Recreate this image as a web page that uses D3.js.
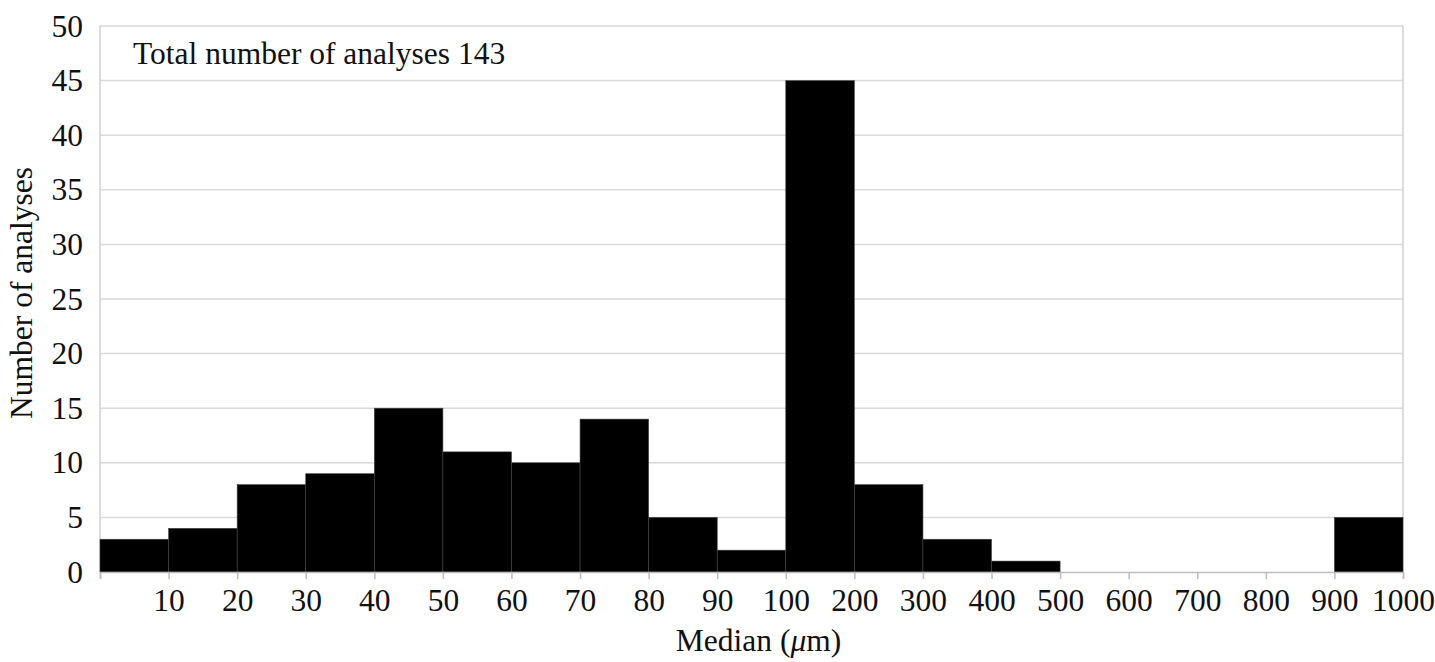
<!DOCTYPE html>
<html>
<head>
<meta charset="utf-8">
<script src="https://cdn.jsdelivr.net/npm/d3@7"></script>
<style>
  body { margin: 0; background: #fff; }
  text { font-family: "Liberation Serif", "Times New Roman", serif; fill: #111; }
</style>
</head>
<body>
<svg width="1435" height="662"></svg>
<script>
// bin edges (Median, µm) and counts per bin
const edges = [0, 10, 20, 30, 40, 50, 60, 70, 80, 90, 100, 200, 300, 400, 500, 600, 700, 800, 900, 1000];
const counts = [3, 4, 8, 9, 15, 11, 10, 14, 5, 2, 45, 8, 3, 1, 0, 0, 0, 0, 5];
const yTicks = [0, 5, 10, 15, 20, 25, 30, 35, 40, 45, 50];
const note = 'Total number of analyses 143';

let fs = '31.5px';

let svg = d3.select('svg'),
  margin = { top: 26, right: 32, bottom: 90, left: 100 },
  width = +svg.attr('width') - margin.left - margin.right,
  height = +svg.attr('height') - margin.top - margin.bottom,
  g = svg.append('g').attr('transform', `translate(${margin.left}, ${margin.top})`);

// edges are evenly spaced on the chart, so use a point scale
let x = d3.scalePoint().domain(edges).range([0, width]);
let y = d3.scaleLinear().domain([0, 50]).range([height, 0]);

let bins = counts.map((c, i) => ({ x0: edges[i], x1: edges[i + 1], n: c }));

// gridlines
g.append('g')
  .selectAll('line')
  .data(yTicks.filter(d => d > 0))
  .join('line')
  .attr('x1', 0).attr('x2', width)
  .attr('y1', d => y(d)).attr('y2', d => y(d))
  .attr('stroke', '#d9d9d9')
  .attr('stroke-width', 1.5);

// frame sides
g.append('line').attr('x1', 0).attr('x2', 0).attr('y1', 0).attr('y2', height)
  .attr('stroke', '#d0d0d0').attr('stroke-width', 1.5);
g.append('line').attr('x1', width).attr('x2', width).attr('y1', 0).attr('y2', height)
  .attr('stroke', '#d0d0d0').attr('stroke-width', 1.5);

// bars
g.append('g')
  .selectAll('rect')
  .data(bins.filter(d => d.n > 0))
  .join('rect')
  .attr('x', d => x(d.x0))
  .attr('width', d => x(d.x1) - x(d.x0))
  .attr('y', d => y(d.n))
  .attr('height', d => y(0) - y(d.n))
  .attr('fill', '#000')
  .attr('stroke', '#444')
  .attr('stroke-width', 0.6);

// x axis
let xAxis = g.append('g')
  .attr('transform', `translate(0, ${height})`)
  .call(d3.axisBottom(x).tickSize(7).tickPadding(10).tickFormat(d => d === 0 ? '' : d));
xAxis.select('.domain').attr('stroke', '#bdbdbd').attr('stroke-width', 1.5);
xAxis.selectAll('.tick line').attr('stroke', '#bdbdbd').attr('stroke-width', 1.5);
xAxis.selectAll('.tick text').attr('font-size', fs).attr('fill', '#111')
  .attr('font-family', '"Liberation Serif", serif');

// y axis (labels only)
let yAxis = g.append('g')
  .call(d3.axisLeft(y).tickValues(yTicks).tickSize(0).tickPadding(17));
yAxis.select('.domain').remove();
yAxis.selectAll('.tick text').attr('font-size', fs).attr('fill', '#111')
  .attr('font-family', '"Liberation Serif", serif');

// axis titles
let xt = svg.append('text')
  .attr('x', margin.left + width / 2 + 7)
  .attr('y', 651)
  .attr('text-anchor', 'middle')
  .attr('font-size', fs);
xt.append('tspan').text('Median (');
xt.append('tspan').attr('font-style', 'italic').text('\u03bc');
xt.append('tspan').text('m)');

svg.append('text')
  .attr('transform', `translate(32, ${margin.top + height / 2 - 6}) rotate(-90)`)
  .attr('text-anchor', 'middle')
  .attr('font-size', fs)
  .text('Number of analyses');

// annotation
g.append('text')
  .attr('x', 33)
  .attr('y', 38)
  .attr('font-size', fs)
  .text(note);
</script>
</body>
</html>
